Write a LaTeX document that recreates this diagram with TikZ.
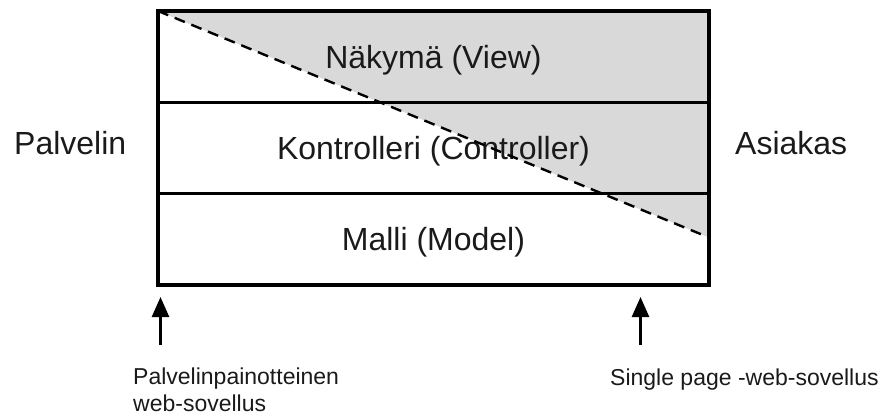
\documentclass[tikz,border=0pt]{standalone}
\usepackage{fontspec}
\setmainfont{Liberation Sans}
\usetikzlibrary{arrows.meta,backgrounds,positioning,calc}
\definecolor{lightgrayfill}{HTML}{D9D9D9}
\definecolor{inkcol}{HTML}{1A1A1A}
\begin{document}
\begin{tikzpicture}[x=1pt,y=-1pt,
  layer/.style={draw=black,line width=3.2pt,minimum width=551pt,minimum height=91.33pt,
    inner sep=0pt,outer sep=0pt,text height=23pt,text depth=0pt,text=inkcol,
    font=\fontsize{32}{38}\selectfont},
  side/.style={anchor=base west,inner sep=0pt,text=inkcol,font=\fontsize{32}{38}\selectfont},
  small/.style={inner sep=0pt,text=inkcol,font=\fontsize{23}{27}\selectfont},
  uparrow/.style={line width=2.6pt,-{Triangle[length=20pt,width=17pt]}},
  split/.style={line width=2.4pt,dash pattern=on 11pt off 7pt}]
\useasboundingbox (0,0) rectangle (884,416);
\node[layer] (view) at (433.5,56.67) {Näkymä (View)};
\node[layer,below=0pt of view] (ctrl) {Kontrolleri (Controller)};
\node[layer,below=0pt of ctrl] (model) {Malli (Model)};
\begin{pgfonlayer}{background}
\fill[lightgrayfill] (view.north west) -- (view.north east) -- ($(model.north east)!0.48!(model.south east)$) coordinate (cut) -- cycle;
\end{pgfonlayer}
\draw[split] (view.north west) -- (cut);
\node[side] (server) at (14,154) {Palvelin};
\node[side] (client) at (735,154) {Asiakas};
\node[small,anchor=north west,align=left] (spa0) at (133,367.5) {Palvelinpainotteinen\\web-sovellus};
\node[small,anchor=base west] (spa) at (610,385) {Single page -web-sovellus};
\coordinate (a1s) at (160.5,345);
\coordinate (a1e) at (160.5,297);
\coordinate (a2s) at (640.5,345);
\coordinate (a2e) at (640.5,297);
\draw[uparrow] (a1s) -- (a1e);
\draw[uparrow] (a2s) -- (a2e);
\end{tikzpicture}
\end{document}
